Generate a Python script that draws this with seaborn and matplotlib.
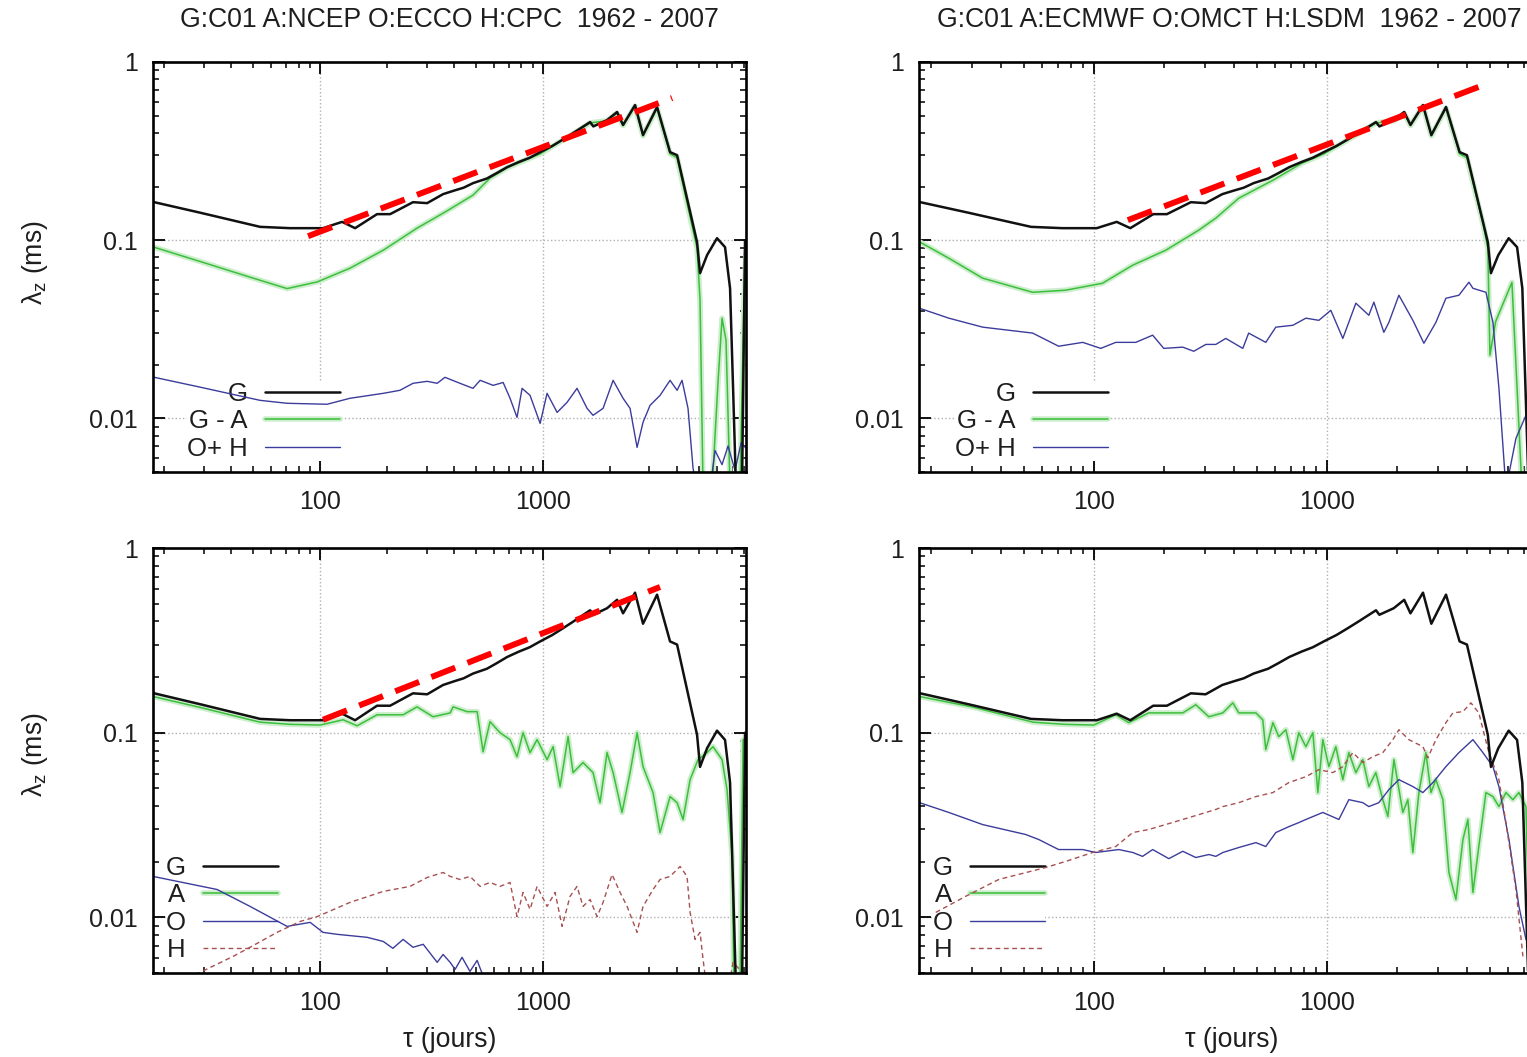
import matplotlib
matplotlib.use('Agg')
import matplotlib.pyplot as plt
import matplotlib.patheffects as pe
from matplotlib.ticker import FixedLocator, FuncFormatter, LogLocator, NullFormatter
import seaborn as sns
import numpy as np

sns.set_theme(style='ticks')
plt.rcParams['font.family'] = ['Liberation Sans', 'DejaVu Sans']

# ---------------- data (tau in days, amplitude in ms) ----------------
titles = ["G:C01 A:NCEP O:ECCO H:CPC  1962 - 2007",
          "G:C01 A:ECMWF O:OMCT H:LSDM  1962 - 2007"]

# G : common to all four panels
G_tau = [17.8, 29.0, 53.8, 73.4, 103, 125.5, 143.5, 180, 206, 261, 302, 356, 400, 440, 485,
         560, 620, 690, 780, 870, 970, 1100, 1230, 1363, 1625, 1680, 1936, 2147, 2284, 2585,
         2807, 3245, 3711, 3990, 4904, 5058, 5438, 6027, 6547, 6896, 7114, 7336, 7800, 8050]
G_val = [0.164, 0.1426, 0.1188, 0.1168, 0.1168, 0.1267, 0.1168, 0.140, 0.140, 0.1634, 0.1614,
         0.1813, 0.190, 0.197, 0.209, 0.222, 0.238, 0.257, 0.275, 0.290, 0.312, 0.338, 0.368,
         0.399, 0.460, 0.435, 0.472, 0.524, 0.443, 0.573, 0.389, 0.559, 0.312, 0.300, 0.0975,
         0.0653, 0.0824, 0.1026, 0.0914, 0.0537, 0.01475, 0.004, 0.004, 0.1]

# top-left : G - A (NCEP)
GA1_tau = [17.8, 29.0, 48.5, 71.1, 97, 136, 192, 272, 363, 485, 578, 690, 970, 1363, 1625,
           1936, 2147, 2284, 2585, 2807, 3245, 3711, 3990, 4904, 5058, 5218, 5727, 6095, 6349,
           6615, 6896, 7640, 7960, 8130]
GA1_val = [0.0917, 0.0759, 0.0620, 0.0535, 0.0583, 0.0696, 0.0879, 0.1168, 0.1437, 0.179,
           0.223, 0.255, 0.305, 0.395, 0.455, 0.468, 0.515, 0.44, 0.565, 0.385, 0.55, 0.305,
           0.29, 0.09, 0.046, 0.004, 0.004, 0.0163, 0.0365, 0.0274, 0.004, 0.004, 0.046, 0.0857]

# top-left : O + H (ECCO + CPC)
OH1_tau = [17.8, 29.0, 53.8, 71.1, 107.5, 136, 192, 228, 261, 302, 335, 363, 424, 485, 522,
           597, 662, 711, 764, 805, 874, 970, 1042, 1156, 1281, 1420, 1575, 1675, 1858, 2061,
           2284, 2455, 2640, 2807, 3018, 3347, 3711, 3990, 4200, 4467, 4706, 4904, 5610, 5904,
           6349, 6754, 7260, 7730, 8130]
OH1_val = [0.01706, 0.01496, 0.01262, 0.01215, 0.0120, 0.01296, 0.01382, 0.01437, 0.01573,
           0.01614, 0.01573, 0.0170, 0.01573, 0.01474, 0.01635, 0.01532, 0.0159, 0.01296,
           0.01013, 0.01474, 0.01346, 0.00937, 0.01382, 0.0108, 0.0123, 0.01474, 0.01138,
           0.0104, 0.01138, 0.01635, 0.01296, 0.01138, 0.00687, 0.0095, 0.01183, 0.01346,
           0.01635, 0.01437, 0.01635, 0.01138, 0.00524, 0.004, 0.004, 0.0066, 0.0055, 0.0070,
           0.0051, 0.0073, 0.0068]

# top-right : G - A (ECMWF)
GA2_tau = [17.9, 23.9, 33.4, 54.7, 75.8, 109, 147, 204, 282, 334, 419, 587, 780, 970, 1363,
           1625, 1936, 2147, 2284, 2585, 2807, 3245, 3711, 3990, 4700, 4904, 5007, 5300, 6223,
           6871, 7200, 7600, 8130]
GA2_val = [0.0978, 0.0792, 0.0612, 0.0510, 0.0524, 0.0573, 0.0724, 0.0879, 0.1138, 0.133,
           0.172, 0.217, 0.27, 0.305, 0.395, 0.455, 0.468, 0.515, 0.44, 0.565, 0.385, 0.55,
           0.305, 0.29, 0.12, 0.09, 0.0226, 0.035, 0.058, 0.004, 0.004, 0.012, 0.03]

# top-right : O + H (OMCT + LSDM)
OH2_tau = [17.9, 23.9, 33.4, 54.7, 70.7, 89.7, 107.2, 124.3, 151.5, 179, 199.7, 241, 268.5,
           302.6, 334, 368.6, 436, 462, 547, 604, 715, 813, 924, 1040, 1171, 1332, 1514, 1591,
           1756, 1846, 2037, 2339, 2608, 2937, 3241, 3686, 4069, 4233, 4813, 5158, 5472, 5865,
           6475, 7148]
OH2_val = [0.0415, 0.0365, 0.0325, 0.0301, 0.0254, 0.0267, 0.0247, 0.0267, 0.0267, 0.0293,
           0.0247, 0.0251, 0.0238, 0.0260, 0.0260, 0.0281, 0.0247, 0.0301, 0.0267, 0.0325,
           0.0333, 0.0365, 0.0355, 0.0404, 0.0281, 0.0443, 0.0379, 0.0449, 0.0304, 0.0346,
           0.0491, 0.0355, 0.0264, 0.0346, 0.0472, 0.0491, 0.0581, 0.0537, 0.0510, 0.0346,
           0.0148, 0.004, 0.00773, 0.0104]

# bottom-left : A (NCEP), O (ECCO), H (CPC)
A1_tau = [17.8, 29.0, 53.8, 73.4, 100, 126.8, 146.5, 180, 235.6, 272, 321, 383, 395, 456, 506,
          538, 578, 641, 711, 764, 813, 874, 940, 1042, 1109, 1192, 1294, 1363, 1511, 1675,
          1801, 1936, 2061, 2260, 2455, 2640, 2807, 3113, 3347, 3711, 3990, 4245, 4564, 4955,
          5438, 5780, 6349, 6683, 7039, 7180, 7640, 7890, 8130]
A1_val = [0.157, 0.137, 0.114, 0.111, 0.110, 0.1175, 0.109, 0.125, 0.125, 0.138, 0.122, 0.128,
          0.138, 0.130, 0.130, 0.0789, 0.1147, 0.100, 0.0917, 0.0741, 0.100, 0.078, 0.0917,
          0.0715, 0.084, 0.0511, 0.0952, 0.0608, 0.0689, 0.0608, 0.0418, 0.078, 0.0608, 0.0370,
          0.0608, 0.100, 0.0655, 0.0474, 0.0288, 0.0451, 0.0418, 0.0339, 0.0557, 0.0715, 0.078,
          0.084, 0.0715, 0.0492, 0.0214, 0.004, 0.004, 0.0917, 0.09]
O1_tau = [17.8, 34.5, 48.5, 71.1, 90.2, 103, 119, 162.5, 192, 212, 235.6, 261, 290, 335, 356,
          383, 403, 433, 470, 506, 550, 641]
O1_val = [0.01667, 0.01416, 0.01147, 0.00894, 0.0094, 0.0083, 0.0081, 0.0078, 0.00741, 0.0068,
          0.0076, 0.00689, 0.00715, 0.00571, 0.0063, 0.00571, 0.00523, 0.00608, 0.0051,
          0.00585, 0.0045, 0.004]
H1_tau = [27.6, 40.7, 48.5, 64.1, 81.4, 97, 136, 192, 253, 302, 356, 383, 424, 470, 522, 578,
          641, 711, 764, 813, 874, 940, 1042, 1132, 1217, 1321, 1420, 1511, 1625, 1746, 1858,
          2039, 2215, 2381, 2640, 2807, 3113, 3347, 3711, 4115, 4422, 4564, 4804, 5058, 5218,
          5438, 6754, 7114, 7640, 8130]
H1_val = [0.0049, 0.00615, 0.00689, 0.0083, 0.00951, 0.0101, 0.01205, 0.01383, 0.01472,
          0.01645, 0.0175, 0.01667, 0.01604, 0.01667, 0.01472, 0.01546, 0.01472, 0.01546,
          0.0101, 0.01365, 0.01105, 0.01472, 0.01147, 0.01365, 0.00894, 0.0130, 0.01472,
          0.01147, 0.0125, 0.0101, 0.01205, 0.01707, 0.01365, 0.01147, 0.0083, 0.01147,
          0.01416, 0.01604, 0.01667, 0.01887, 0.01667, 0.01064, 0.0076, 0.0083, 0.00593,
          0.004, 0.004, 0.00571, 0.0052, 0.0045]

# bottom-right : A (ECMWF), O (OMCT), H (LSDM)
A2_tau = [17.9, 30, 55, 75, 100, 124.3, 141.4, 172, 241, 274, 311.7, 357.8, 395, 419, 496, 531,
          547, 587, 622, 667, 715, 758, 813, 871, 915, 961, 1020, 1093, 1171, 1243, 1332, 1427,
          1514, 1622, 1738, 1827, 1940, 2118, 2226, 2339, 2482, 2660, 2796, 2937, 3147, 3339,
          3578, 3835, 4027, 4233, 4487, 4813, 5158, 5472, 5865, 6281, 6668, 7148, 7500]
A2_val = [0.157, 0.138, 0.114, 0.111, 0.110, 0.125, 0.1133, 0.128, 0.128, 0.1417, 0.122, 0.128,
          0.145, 0.128, 0.128, 0.1175, 0.081, 0.1133, 0.0952, 0.1038, 0.0715, 0.100, 0.084,
          0.100, 0.0474, 0.0917, 0.0655, 0.084, 0.0557, 0.078, 0.0608, 0.0715, 0.0511, 0.0608,
          0.0434, 0.0352, 0.0715, 0.0370, 0.0434, 0.02246, 0.0474, 0.078, 0.0474, 0.0557,
          0.0434, 0.0175, 0.0125, 0.0264, 0.0339, 0.01365, 0.0242, 0.0474, 0.0451, 0.0398,
          0.0474, 0.0434, 0.0474, 0.0398, 0.004]
O2_tau = [17.9, 23.9, 33.4, 51.1, 58.1, 70.7, 89.7, 102, 128, 147, 162, 179, 210, 241, 274, 312,
          334, 358, 419, 496, 547, 604, 687, 758, 813, 961, 1126, 1243, 1427, 1514, 1671, 1846,
          2037, 2339, 2582, 2851, 3241, 3686, 4233, 4673, 5158, 5472, 6043, 6668, 7148]
O2_val = [0.0418, 0.0370, 0.0318, 0.0281, 0.0264, 0.0233, 0.0233, 0.02246, 0.0233, 0.02246,
          0.0214, 0.0233, 0.0208, 0.0228, 0.0211, 0.0219, 0.0214, 0.02246, 0.0239, 0.0254,
          0.0242, 0.0288, 0.0310, 0.0326, 0.0339, 0.0370, 0.0339, 0.0434, 0.0418, 0.0398,
          0.0418, 0.0492, 0.0557, 0.0511, 0.0474, 0.0537, 0.0655, 0.078, 0.0917, 0.078, 0.0655,
          0.0511, 0.0264, 0.01147, 0.0076]
H2_tau = [21.0, 28.2, 39.1, 62.2, 75.8, 99, 124.3, 147, 172, 241, 334, 358, 419, 496, 587, 687,
          813, 924, 1061, 1171, 1293, 1427, 1576, 1738, 1919, 2037, 2248, 2582, 2713, 2937,
          3241, 3473, 3835, 4150, 4487, 4955, 5472, 5865, 6475, 6935]
H2_val = [0.01064, 0.0130, 0.01604, 0.01862, 0.0201, 0.02246, 0.0242, 0.0288, 0.0299, 0.0339,
          0.0384, 0.0398, 0.0418, 0.0451, 0.0474, 0.0537, 0.0578, 0.0631, 0.0608, 0.0655,
          0.078, 0.0689, 0.0742, 0.078, 0.0917, 0.1038, 0.0917, 0.084, 0.0732, 0.0917, 0.1133,
          0.128, 0.130, 0.145, 0.128, 0.078, 0.0557, 0.0326, 0.01416, 0.00615]

# red power-law guide lines
red_tl_tau, red_tl_val = [88.3, 3790], [0.1053, 0.628]
red_tr_tau, red_tr_val = [140, 4955], [0.1296, 0.762]
red_bl_tau, red_bl_val = [103, 3347], [0.1175, 0.615]

x_ticks = [100, 1000]
y_ticks = [0.01, 0.1, 1]
xlim = (17.8, 8130)
ylim = (0.005, 1.0)

# ---------------- styling ----------------
W, H = 1527, 1057
FS_TICK = 18.0
FS_TXT = 19.2
FS_LEG = 18.5
TXT = '#1e1e1e'
C_G = '#111111'
C_GREEN = '#3cbf3c'
C_BLUE = '#3c3c9c'
C_H = '#a85050'
C_RED = '#ff0000'
glow = [pe.Stroke(linewidth=4.0, foreground='#cdeecd'), pe.Normal()]

fig = plt.figure(figsize=(W / 100, H / 100), dpi=100)


def rect(l, r, t, b):
    return [l / W, (H - b) / H, (r - l) / W, (b - t) / H]


def style_axes(ax):
    ax.set_xscale('log')
    ax.set_yscale('log')
    ax.set_xlim(*xlim)
    ax.set_ylim(*ylim)
    ax.xaxis.set_major_locator(FixedLocator(x_ticks))
    ax.yaxis.set_major_locator(FixedLocator(y_ticks))
    ax.xaxis.set_minor_locator(LogLocator(base=10, subs=np.arange(2, 10), numticks=30))
    ax.yaxis.set_minor_locator(LogLocator(base=10, subs=np.arange(2, 10), numticks=30))
    fmt = FuncFormatter(lambda v, _: '%g' % v)
    ax.xaxis.set_major_formatter(fmt)
    ax.yaxis.set_major_formatter(fmt)
    ax.xaxis.set_minor_formatter(NullFormatter())
    ax.yaxis.set_minor_formatter(NullFormatter())
    ax.tick_params(which='both', direction='in', top=True, right=True, colors='black',
                   labelsize=FS_TICK, labelcolor=TXT)
    ax.tick_params(which='major', length=8.5, width=1.3, pad=11)
    ax.tick_params(axis='x', which='major', pad=13)
    ax.tick_params(which='minor', length=4.3, width=1.1)
    for s in ax.spines.values():
        s.set_linewidth(1.9)
        s.set_color('black')
    ax.set_axisbelow(True)
    ax.grid(True, which='major', color='#b0b0b0', linestyle=':', linewidth=1.0)
    ax.grid(False, which='minor')
    ax.set_xlabel('')
    ax.set_ylabel('')


def line(ax, t, v, color, lw, label, z=2, ls='-', effects=None):
    sns.lineplot(x=t, y=v, ax=ax, color=color, linewidth=lw, estimator=None, sort=False,
                 legend=False)
    ln = ax.lines[-1]
    ln.set_label(label)
    ln.set_zorder(z)
    ln.set_linestyle(ls)
    if effects:
        ln.set_path_effects(effects)
    return ln


def add_legend(ax, handles, labels, ax_x, ax_y):
    leg = ax.legend(handles=handles, labels=labels, loc='upper right',
                    bbox_to_anchor=(ax_x, ax_y), bbox_transform=ax.transAxes,
                    markerfirst=False, frameon=True, fancybox=False, edgecolor='none',
                    facecolor='white', framealpha=1, borderpad=0.0, borderaxespad=0.0,
                    handlelength=2.9, handletextpad=0.7, labelspacing=0.13, fontsize=FS_LEG)
    for t in leg.get_texts():
        t.set_color(TXT)
    leg.set_zorder(1)


def red(ax, t, v):
    ln = line(ax, t, v, C_RED, 4.3, '_nolegend_', z=4, ls=(0, (4.3, 2.2)))
    ln.set_solid_capstyle('butt')
    ln.set_dash_capstyle('butt')


# ---- top-left
ax1 = fig.add_axes(rect(153, 746, 62, 472))
style_axes(ax1)
h1 = line(ax1, G_tau, G_val, C_G, 1.8, 'G', z=2.5)
h2 = line(ax1, GA1_tau, GA1_val, C_GREEN, 1.1, 'G - A', effects=glow)
h3 = line(ax1, OH1_tau, OH1_val, C_BLUE, 1.0, 'O+ H')
red(ax1, red_tl_tau, red_tl_val)
style_axes(ax1)
add_legend(ax1, [h1, h2, h3], ['G', 'G - A', 'O+ H'], (340 - 153) / 593, (472 - 382) / 410)

# ---- top-right
ax2 = fig.add_axes(rect(919, 1539, 62, 472))
style_axes(ax2)
h1 = line(ax2, G_tau, G_val, C_G, 1.8, 'G', z=2.5)
h2 = line(ax2, GA2_tau, GA2_val, C_GREEN, 1.1, 'G - A', effects=glow)
h3 = line(ax2, OH2_tau, OH2_val, C_BLUE, 1.0, 'O+ H')
red(ax2, red_tr_tau, red_tr_val)
style_axes(ax2)
add_legend(ax2, [h1, h2, h3], ['G', 'G - A', 'O+ H'], (1108 - 919) / 620, (472 - 382) / 410)

# ---- bottom-left
ax3 = fig.add_axes(rect(153, 746, 548, 973))
style_axes(ax3)
h1 = line(ax3, G_tau, G_val, C_G, 1.8, 'G', z=2.5)
h2 = line(ax3, A1_tau, A1_val, C_GREEN, 1.1, 'A', effects=glow)
h3 = line(ax3, O1_tau, O1_val, C_BLUE, 1.0, 'O')
h4 = line(ax3, H1_tau, H1_val, C_H, 1.0, 'H', ls=(0, (3.5, 2.5)))
red(ax3, red_bl_tau, red_bl_val)
style_axes(ax3)
add_legend(ax3, [h1, h2, h3, h4], ['G', 'A', 'O', 'H'], (278 - 153) / 593, (973 - 856) / 425)

# ---- bottom-right
ax4 = fig.add_axes(rect(919, 1539, 548, 973))
style_axes(ax4)
h1 = line(ax4, G_tau, G_val, C_G, 1.8, 'G', z=2.5)
h2 = line(ax4, A2_tau, A2_val, C_GREEN, 1.1, 'A', effects=glow)
h3 = line(ax4, O2_tau, O2_val, C_BLUE, 1.0, 'O')
h4 = line(ax4, H2_tau, H2_val, C_H, 1.0, 'H', ls=(0, (3.5, 2.5)))
style_axes(ax4)
add_legend(ax4, [h1, h2, h3, h4], ['G', 'A', 'O', 'H'], (1045 - 919) / 620, (973 - 856) / 425)

# ---- texts
fig.text(449.5 / W, 1 - 20 / H, titles[0], ha='center', va='center', fontsize=FS_TXT, color=TXT)
fig.text(1229 / W, 1 - 20 / H, titles[1], ha='center', va='center', fontsize=FS_TXT, color=TXT)
for yc in (263, 755):
    fig.text(35 / W, 1 - yc / H, 'λ$_\\mathregular{z}$ (ms)', rotation=90, ha='center',
             va='center', fontsize=FS_TXT, color=TXT)
fig.text(450 / W, 1 - 1040 / H, 'τ (jours)', ha='center', va='center', fontsize=FS_TXT, color=TXT)
fig.text(1232 / W, 1 - 1040 / H, 'τ (jours)', ha='center', va='center', fontsize=FS_TXT, color=TXT)

fig.savefig('out.png', dpi=100)
